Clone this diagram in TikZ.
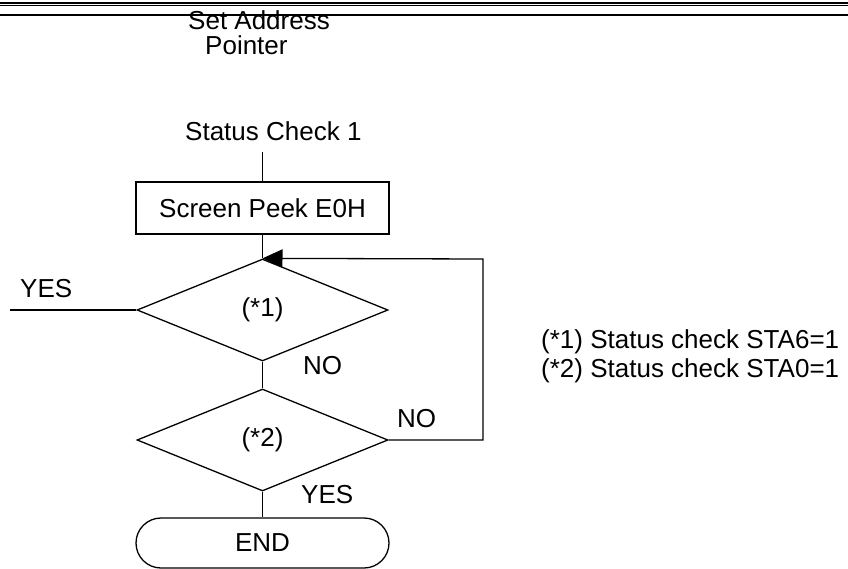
\documentclass[tikz,border=0pt]{standalone}
\usepackage{fontspec}
\setmainfont{Liberation Sans}
\usetikzlibrary{shapes.geometric,shapes.misc,arrows.meta}
\begin{document}
\begin{tikzpicture}[x=1pt,y=-1pt,
  every node/.style={font=\fontsize{26}{30}\selectfont},
  line/.style={line width=1.3pt},
  lbl/.style={inner sep=0pt,anchor=base west},
  proc/.style={draw,line width=1.3pt,minimum width=253pt,minimum height=52pt,inner sep=0pt},
  decision/.style={draw,diamond,line width=1.3pt,minimum width=251pt,minimum height=102pt,inner sep=0pt},
  term/.style={draw,rounded rectangle,line width=1.3pt,minimum width=253pt,minimum height=50pt,inner sep=0pt},
  tip/.style={-{Triangle[length=20pt,width=18pt]}}
]
\useasboundingbox (0,0) rectangle (848,569);

% header rules
\draw[line width=1.3pt] (0,3) -- (848,3);
\draw[line width=1.3pt] (0,5.8) -- (848,5.8);
\draw[line width=2pt] (0,14.7) -- (848,14.7);

% titles
\node[lbl] (sa1) at (188,30) {Set Address};
\node[lbl] (sa2) at (205,55) {Pointer};
\node[lbl] (start) at (185,141) {Status Check 1};
\coordinate (startfoot) at (262.5,152);

% flow
\node[proc] (peek) at (262.5,208) {Screen Peek E0H};
\node[decision] (d1) at (262.5,310) {(*1)};
\node[decision] (d2) at (262.5,440) {(*2)};
\node[term] (end) at (262.5,543) {END};

\coordinate (yesend) at (10,310);
\coordinate (loopB) at (483,440);
\coordinate (loopT) at (483,259);

\draw[line] (startfoot) -- (peek.north);
\draw[line] (peek.south) -- (d1.north);
\draw[line] (d1.west) -- (yesend);
\draw[line] (d1.south) -- (d2.north);
\draw[line] (d2.south) -- (end.north);
\draw[line,tip] (d2.east) -- (loopB) -- (loopT) -- (d1.north);

% branch labels
\node[lbl] (yes1) at (20,297) {YES};
\node[lbl] (no1) at (303,374) {NO};
\node[lbl] (no2) at (397,427) {NO};
\node[lbl] (yes2) at (301,503) {YES};

% notes
\node[lbl] (n1) at (541,348) {(*1) Status check STA6=1};
\node[lbl] (n2) at (541,377) {(*2) Status check STA0=1};
\end{tikzpicture}
\end{document}
